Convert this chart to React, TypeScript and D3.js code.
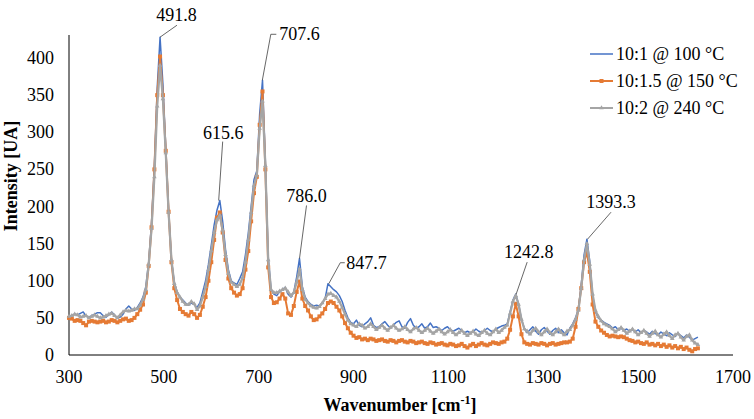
import React from "react";
import * as d3 from "d3";

// Wavenumber grid of the spectra (cm-1): first point and spacing
const WN_START = 300;
const WN_STEP = 6;

// Intensity [UA], one value per grid point (300 … 1626 cm-1)
const series101 = [
  52, 53, 55, 54, 56, 58, 52, 51, 53, 55,
  57, 57, 53, 51, 54, 58, 54, 50, 51, 55,
  62, 66, 62, 60, 64, 70, 78, 92, 125, 178,
  255, 360, 428, 365, 280, 195, 128, 98, 85, 78,
  74, 70, 67, 70, 68, 64, 70, 85, 100, 122,
  148, 175, 195, 208, 180, 142, 115, 100, 97, 95,
  103, 112, 135, 164, 200, 236, 248, 325, 370, 262,
  133, 88, 82, 80, 85, 88, 91, 82, 78, 85,
  105, 130, 92, 78, 72, 68, 66, 67, 66, 70,
  76, 96, 92, 88, 85, 80, 72, 60, 50, 44,
  42, 47, 40, 38, 42, 45, 50, 40, 37, 38,
  42, 45, 40, 36, 40, 44, 46, 38, 36, 44,
  49, 40, 36, 38, 42, 36, 38, 43, 37, 38,
  36, 33, 36, 38, 34, 32, 34, 36, 33, 30,
  32, 30, 31, 35, 32, 30, 33, 36, 33, 31,
  35, 37, 39, 40, 42, 58, 74, 82, 68, 48,
  36, 30, 34, 38, 32, 28, 34, 37, 32, 28,
  33, 36, 30, 34, 30, 27, 36, 42, 50, 62,
  95, 135, 156, 126, 80, 58, 50, 47, 44, 42,
  40, 36, 38, 34, 36, 33, 35, 32, 34, 31,
  34, 30, 33, 31, 28, 32, 29, 27, 31, 28,
  26, 30, 27, 25, 29, 26, 23, 27, 24, 20,
  22, 24,
];

const series1015 = [
  50, 49, 46, 47, 46, 43, 40, 45, 46, 45,
  44, 45, 46, 44, 45, 47, 46, 44, 46, 48,
  49, 46, 47, 50, 55, 61, 68, 84, 120, 172,
  250, 350, 402, 350, 275, 193, 125, 90, 74, 62,
  58, 55, 53, 58, 55, 50, 54, 65, 78, 100,
  125, 155, 185, 192, 165, 128, 103, 90, 84, 80,
  82, 90, 115, 140, 180, 218, 240, 310, 355, 250,
  118, 78, 70, 71, 76, 82, 76, 56, 54, 66,
  85, 99, 76, 66, 60, 52, 47, 48, 52, 56,
  62, 70, 72, 70, 65, 60, 52, 43, 36, 30,
  26, 23, 24, 21, 22, 20, 22, 21, 19, 20,
  21, 19, 18, 20, 19, 17, 19, 20, 18, 17,
  19, 18, 16, 17, 18, 16, 15, 17, 16, 14,
  15, 16, 14, 13, 15, 14, 12, 13, 15, 12,
  10, 13, 15, 12, 14, 16, 14, 13, 15, 17,
  16, 15, 17, 18, 22, 34, 52, 69, 52, 28,
  17, 15, 14, 16, 15, 14, 16, 15, 13, 15,
  16, 14, 15, 16, 17, 17, 18, 22, 38, 62,
  90, 125, 139, 112, 68, 45, 38, 33, 30, 27,
  25, 26, 25, 24, 25, 24, 22, 20, 19, 17,
  18, 16, 15, 17, 14, 15, 13, 15, 12, 14,
  11, 13, 10, 12, 9, 11, 8, 10, 7, 5,
  8, 9,
];

const series102 = [
  52, 53, 55, 54, 51, 52, 53, 50, 52, 54,
  52, 50, 51, 53, 55, 56, 53, 50, 54, 58,
  60, 59, 60, 62, 62, 67, 75, 88, 122, 170,
  240, 335, 390, 345, 272, 192, 128, 96, 84, 78,
  72, 68, 68, 72, 69, 61, 66, 78, 92, 115,
  140, 165, 182, 188, 168, 135, 110, 98, 95, 92,
  95, 104, 125, 155, 192, 228, 242, 305, 342, 255,
  128, 88, 84, 84, 86, 88, 90, 85, 80, 84,
  98, 116, 88, 75, 70, 66, 64, 63, 65, 70,
  76, 82, 83, 80, 78, 72, 64, 55, 47, 42,
  40, 38, 42, 40, 36, 38, 42, 38, 34, 37,
  40, 36, 33, 37, 40, 36, 33, 35, 38, 34,
  31, 35, 37, 33, 30, 33, 36, 32, 29, 32,
  35, 31, 28, 31, 34, 30, 27, 30, 33, 29,
  26, 29, 32, 28, 26, 30, 33, 29, 27, 31,
  35, 30, 33, 37, 40, 56, 72, 80, 68, 48,
  35, 32, 28, 33, 36, 31, 27, 31, 35, 30,
  27, 31, 35, 30, 27, 32, 34, 40, 48, 60,
  90, 128, 150, 122, 82, 60, 52, 46, 42, 40,
  38, 35, 31, 34, 37, 33, 29, 32, 35, 31,
  27, 30, 33, 29, 25, 29, 32, 27, 24, 28,
  31, 26, 22, 27, 29, 24, 20, 25, 27, 20,
  16, 14,
];

const seriesNames = ["10:1 @ 100 °C", "10:1.5 @ 150 °C", "10:2 @ 240 °C"];
const xTicks = [300, 500, 700, 900, 1100, 1300, 1500, 1700];
const yTicks = [0, 50, 100, 150, 200, 250, 300, 350, 400];
const peakPositions = [491.8, 615.6, 707.6, 786.0, 847.7, 1242.8, 1393.3];
const peakTexts = ["491.8", "615.6", "707.6", "786.0", "847.7", "1242.8", "1393.3"];

// ---- layout / style ----
const W = 754;
const H = 419;
const FONT = "'Liberation Serif', 'Times New Roman', serif";
const COLORS = ["#4472C4", "#E57A34", "#A5A5A5"];

// label layout per peak: text anchor offset (dx, dy) from the peak, leader points
type LabelLayout = {
  tx: number; ty: number; anchor: "middle" | "start";
  leader: [number, number][];
};
const labelLayouts: LabelLayout[] = [
  { tx: 16.5, ty: -22, anchor: "middle", leader: [[0, 0], [17, -12]] },
  { tx: 4.5, ty: -68, anchor: "middle", leader: [[0, 0], [4, -59]] },
  { tx: 17, ty: -46, anchor: "start", leader: [[0, 0], [8.5, -46], [14, -46]] },
  { tx: 7, ty: -62, anchor: "middle", leader: [[0, 0], [7, -53]] },
  { tx: 17.5, ty: -21, anchor: "start", leader: [[0, 0], [11.5, -21], [16, -21]] },
  { tx: 12.5, ty: -42, anchor: "middle", leader: [[0, 0], [11, -32]] },
  { tx: 23.5, ty: -37.5, anchor: "middle", leader: [[0, 0], [23.5, -27]] },
];

export default function App() {
  const margin = { left: 69, right: W - 733, top: 35, bottom: H - 355 };
  const x = d3.scaleLinear().domain([300, 1700]).range([margin.left, W - margin.right]);
  const y = d3.scaleLinear().domain([0, 431]).range([H - margin.bottom, margin.top]);

  const wn = (i: number) => WN_START + i * WN_STEP;
  const allSeries = [series101, series1015, series102];

  const line = d3
    .line<number>()
    .x((_, i) => x(wn(i)))
    .y((d) => y(d));

  const tri = d3.symbol().type(d3.symbolTriangle).size(9)() as string;

  const peakY = (p: number) => {
    let best = 0;
    series101.forEach((v, i) => {
      if (Math.abs(wn(i) - p) <= WN_STEP / 2 + 0.5 && v > best) best = v;
    });
    return best;
  };

  const legendRows = [54, 81, 108];

  return (
    <svg width={W} height={H} style={{ position: "absolute", left: 0, top: 0, background: "#fff" }} fontFamily={FONT}>
      <rect x={0} y={0} width={W} height={H} fill="#fff" />
      {/* axes */}
      <line x1={x(300)} x2={x(1700)} y1={y(0)} y2={y(0)} stroke="#000" strokeWidth={1} />
      <line x1={x(300)} x2={x(300)} y1={y(0)} y2={y(431)} stroke="#000" strokeWidth={1} />
      {yTicks.map((t) => (
        <text key={"y" + t} x={x(300) - 15} y={y(t) + 6} textAnchor="end" fontSize={18} fill="#000">
          {t}
        </text>
      ))}
      {xTicks.map((t) => (
        <text key={"x" + t} x={x(t)} y={383} textAnchor="middle" fontSize={18} fill="#000">
          {t}
        </text>
      ))}
      <text x={400} y={411} textAnchor="middle" fontSize={18} fontWeight="bold" fill="#000">
        Wavenumber  [cm
        <tspan fontSize={12} dy={-7}>-1</tspan>
        <tspan dy={7}>]</tspan>
      </text>
      <text
        transform={`translate(17, 176) rotate(-90)`}
        textAnchor="middle"
        fontSize={18}
        fontWeight="bold"
        fill="#000"
      >
        Intensity [UA]
      </text>

      {/* series */}
      <path d={line(series101) || ""} fill="none" stroke={COLORS[0]} strokeWidth={1.5} strokeLinejoin="round" />
      <path d={line(series1015) || ""} fill="none" stroke={COLORS[1]} strokeWidth={2} strokeLinejoin="round" />
      {series1015.map((v, i) => (
        <rect key={"o" + i} x={x(wn(i)) - 2} y={y(v) - 2} width={4} height={4} fill={COLORS[1]} />
      ))}
      <path d={line(series102) || ""} fill="none" stroke={COLORS[2]} strokeWidth={2.25} strokeLinejoin="round" />
      {series102.map((v, i) => (
        <path key={"g" + i} d={tri} transform={`translate(${x(wn(i))},${y(v)})`} fill={COLORS[2]} />
      ))}

      {/* peak labels */}
      {peakPositions.map((p, k) => {
        const ax = x(p);
        const ay = y(peakY(p));
        const L = labelLayouts[k];
        const pts = L.leader.map(([dx, dy]) => [ax + dx, ay + dy] as [number, number]);
        return (
          <g key={"p" + k}>
            <path d={d3.line()(pts) || ""} fill="none" stroke="#404040" strokeWidth={0.8} />
            <text x={ax + L.tx} y={ay + L.ty + 6} textAnchor={L.anchor} fontSize={18} fill="#000">
              {peakTexts[k]}
            </text>
          </g>
        );
      })}

      {/* legend */}
      {seriesNames.map((name, k) => (
        <g key={"l" + k}>
          <line x1={590} x2={613} y1={legendRows[k]} y2={legendRows[k]} stroke={COLORS[k]} strokeWidth={k === 0 ? 1.5 : 2} />
          {k === 1 && <rect x={599.5} y={legendRows[k] - 2} width={4} height={4} fill={COLORS[1]} />}
          {k === 2 && <path d={tri} transform={`translate(601.5,${legendRows[k]})`} fill={COLORS[2]} />}
          <text x={616} y={legendRows[k] + 6} fontSize={18} fill="#000">
            {name}
          </text>
        </g>
      ))}
    </svg>
  );
}
